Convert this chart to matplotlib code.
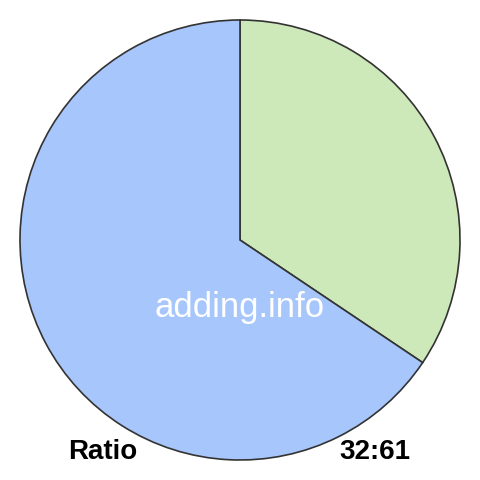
import matplotlib
matplotlib.use("Agg")
import matplotlib.pyplot as plt

labels = ["32", "61"]
values = [32, 61]
colors = ["#cde8b9", "#a6c6fc"]

fig = plt.figure(figsize=(4.8, 4.8), dpi=100)
ax = fig.add_axes([0, 0, 1, 1])
ax.set_xlim(0, 480)
ax.set_ylim(480, 0)
ax.set_aspect("equal")
ax.axis("off")

# pie centred at (240, 240) in pixel coords; y axis is flipped so go counterclockwise
ax.pie(values, colors=colors, startangle=90, counterclock=False,
       center=(240, 240), radius=220,
       wedgeprops=dict(edgecolor="#333333", linewidth=1.2))
ax.set_xlim(0, 480)
ax.set_ylim(0, 480)

ax.text(240, 480 - 308, "adding.info", color="white", fontsize=25,
        family="Liberation Sans", ha="center", va="center")
ax.text(103, 480 - 452, "Ratio", fontsize=20, fontweight="bold",
        family="Liberation Sans", ha="center", va="center")
ax.text(375, 480 - 452, ":".join(labels), fontsize=20, fontweight="bold",
        family="Liberation Sans", ha="center", va="center")

fig.savefig("out.png", dpi=100)
